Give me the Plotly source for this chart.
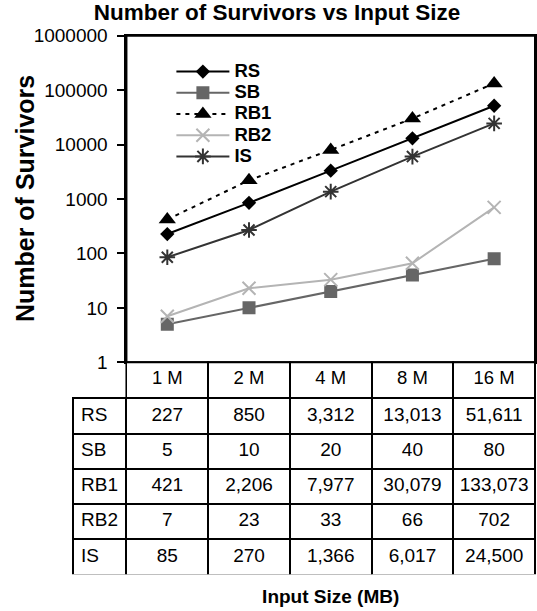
import plotly.graph_objects as go

# ---------------- data ----------------
categories = ["1 M", "2 M", "4 M", "8 M", "16 M"]
series_names = ["RS", "SB", "RB1", "RB2", "IS"]
rs = [227, 850, 3312, 13013, 51611]
sb = [5, 10, 20, 40, 80]
rb1 = [421, 2206, 7977, 30079, 133073]
rb2 = [7, 23, 33, 66, 702]
is_ = [85, 270, 1366, 6017, 24500]
y_tick_vals = [1, 10, 100, 1000, 10000, 100000, 1000000]
y_tick_text = ["1", "10", "100", "1000", "10000", "100000", "1000000"]

series_values = [rs, sb, rb1, rb2, is_]

# ---------------- styles ----------------
styles = [
    dict(color="#000000", dash="solid", symbol="diamond", size=11, mlw=0),
    dict(color="#666666", dash="solid", symbol="square", size=13, mlw=0),
    dict(color="#000000", dash="4px,5px", symbol="triangle-up", size=15, mlw=0),
    dict(color="#b4b4b4", dash="solid", symbol="x-thin-open", size=13, mlw=2),
    dict(color="#333333", dash="solid", symbol="asterisk-open", size=13, mlw=2),
]

FONT = "Liberation Sans, Arial, sans-serif"
W, H = 537, 611
ml, mr, mt, mb = 72.5, 2, 34, 36
pw = W - ml - mr
ph = H - mt - mb


def fx(x):
    return (x - ml) / pw


def fy(y):
    return 1 - (y - mt) / ph


plot_left, plot_right = 126, 535
plot_top, plot_bottom = 35.7, 362.3

fig = go.Figure()

for name, vals, st in zip(series_names, series_values, styles):
    fig.add_trace(go.Scatter(
        x=categories, y=vals,
        name=f'<b><span style="font-size:18.5px">{name}</span></b>',
        mode="lines+markers",
        line=dict(color=st["color"], width=2, dash=st["dash"]),
        marker=dict(symbol=st["symbol"], size=st["size"], color=st["color"],
                    line=dict(width=st["mlw"], color=st["color"])),
        xaxis="x", yaxis="y",
    ))

# data table
col_cells = [series_names]
for j in range(len(categories)):
    col_cells.append([f"{v[j]:,}" for v in series_values])

clear = "rgba(0,0,0,0)"
fig.add_trace(go.Table(
    domain=dict(x=[0, 1], y=[0, fy(plot_bottom)]),
    columnwidth=[53.5] + [81.8] * len(categories),
    header=dict(values=[""] + categories, height=36,
                fill_color=[clear] + ["white"] * len(categories),
                line=dict(color=[clear] + ["black"] * len(categories), width=2),
                align="center", font=dict(family=FONT, size=18.5, color="black")),
    cells=dict(values=col_cells, height=35.3, fill_color="white",
               line=dict(color="black", width=2),
               align=["left"] + ["center"] * len(categories),
               font=dict(family=FONT, size=19, color="black")),
))

frame = dict(type="rect", xref="paper", yref="paper",
             x0=fx(plot_left), x1=fx(plot_right),
             y0=fy(plot_bottom), y1=fy(plot_top),
             line=dict(color="black", width=2),
             fillcolor="rgba(0,0,0,0)", layer="above")

fig.update_layout(
    width=W, height=H,
    margin=dict(l=ml, r=mr, t=mt, b=mb, autoexpand=False),
    paper_bgcolor="white", plot_bgcolor="white",
    font=dict(family=FONT, color="black"),
    title=dict(text="<b>Number of Survivors vs Input Size</b>",
               x=277 / W, xanchor="center", xref="container",
               y=1 - 12 / H, yanchor="middle", yref="container",
               font=dict(family=FONT, size=22.5, color="black")),
    showlegend=True,
    legend=dict(x=fx(171), xanchor="left", y=fy(56), yanchor="top",
                bgcolor="rgba(0,0,0,0)", borderwidth=0,
                itemwidth=53,
                font=dict(family=FONT, size=14, color="black"),
                tracegroupgap=0),
    xaxis=dict(domain=[fx(plot_left), fx(plot_right)], type="category",
               range=[-0.5, len(categories) - 0.5],
               showticklabels=False, ticks="", showgrid=False, zeroline=False,
               showline=True, linecolor="black", linewidth=2, mirror=True,
               title=dict(text="<b>Input Size (MB)</b>", standoff=226,
                          font=dict(family=FONT, size=19, color="black")),
               automargin=False),
    yaxis=dict(domain=[fy(plot_bottom), fy(plot_top)], type="log",
               range=[0, 6], tickvals=y_tick_vals, ticktext=y_tick_text,
               ticks="outside", ticklen=7, tickwidth=1.5, tickcolor="black",
               ticklabelstandoff=6,
               tickfont=dict(family=FONT, size=19, color="black"),
               showgrid=False, zeroline=False,
               showline=True, linecolor="black", linewidth=2, mirror=True,
               automargin=False),
    shapes=[frame],
    annotations=[dict(text="<b>Number of Survivors</b>", textangle=-90,
                      xref="paper", yref="paper",
                      x=fx(24.5), y=fy((plot_top + plot_bottom) / 2),
                      xanchor="center", yanchor="middle", showarrow=False,
                      font=dict(family=FONT, size=25, color="black"))],
)

fig.write_html("out.html", config={"displayModeBar": False},
               post_script="document.body.style.margin='0';")
